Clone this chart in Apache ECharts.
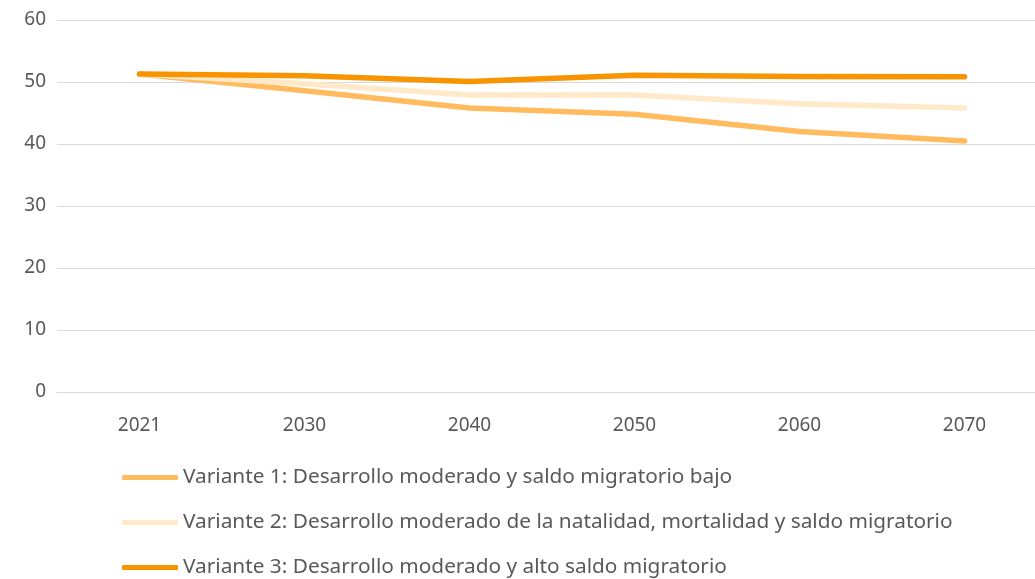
<!DOCTYPE html>
<html>
<head>
<meta charset="utf-8">
<script src="https://cdn.jsdelivr.net/npm/echarts@6/dist/echarts.min.js"></script>
<style>
  html, body { margin: 0; padding: 0; background: #fff; overflow: hidden; }
  #chart { width: 1048px; height: 579px; }
</style>
</head>
<body>
<div id="chart"></div>
<script>
  // datos
  var years = ['2021', '2030', '2040', '2050', '2060', '2070'];
  var variante1 = [51.3, 48.6, 45.8, 44.8, 42.0, 40.5];
  var variante2 = [51.3, 49.7, 47.9, 47.9, 46.5, 45.8];
  var variante3 = [51.3, 51.0, 50.1, 51.1, 50.9, 50.85];
  var seriesNames = [
    'Variante 1: Desarrollo moderado y saldo migratorio bajo',
    'Variante 2: Desarrollo moderado de la natalidad, mortalidad y saldo migratorio',
    'Variante 3: Desarrollo moderado y alto saldo migratorio'
  ];
  var colors = ['#ffbb5e', '#ffe9c8', '#f79400'];

  var textColor = '#595959';
  var fontFamily = 'Noto Sans';

  function lineSerie(name, data, color) {
    return {
      name: name,
      type: 'line',
      data: data,
      symbol: 'none',
      smooth: false,
      lineStyle: { color: color, width: 5.5, cap: 'round', join: 'round' },
      itemStyle: { color: color }
    };
  }

  // el grafico original se sale un poco por la derecha
  var myChart = echarts.init(document.getElementById('chart'), null, { renderer: 'canvas' });
  myChart.setOption({
    animation: false,
    grid: { left: 57, top: 20, right: 1, bottom: 187, containLabel: false },
    xAxis: {
      type: 'category',
      data: years,
      boundaryGap: true,
      axisLine: { show: true, lineStyle: { color: '#d9d9d9', width: 1 } },
      axisTick: { show: false },
      axisLabel: { color: textColor, fontFamily: fontFamily, fontSize: 19, margin: 24 }
    },
    yAxis: {
      type: 'value',
      min: 0,
      max: 60,
      interval: 10,
      axisLine: { show: false },
      axisTick: { show: false },
      axisLabel: { color: textColor, fontFamily: fontFamily, fontSize: 19, margin: 11 },
      splitLine: { lineStyle: { color: '#d9d9d9', width: 1 } }
    },
    legend: {
      orient: 'vertical',
      left: 122,
      top: 466,
      height: 150,
      padding: 0,
      icon: 'roundRect',
      itemWidth: 56,
      itemHeight: 5,
      itemGap: 22,
      selectedMode: false,
      textStyle: { color: textColor, fontFamily: fontFamily, fontSize: 20.8, lineHeight: 23 },
      data: seriesNames.map(function (n, i) {
        return { name: n, itemStyle: { color: colors[i], borderWidth: 0 } };
      })
    },
    series: [
      lineSerie(seriesNames[0], variante1, colors[0]),
      lineSerie(seriesNames[1], variante2, colors[1]),
      lineSerie(seriesNames[2], variante3, colors[2])
    ]
  });
</script>
</body>
</html>
